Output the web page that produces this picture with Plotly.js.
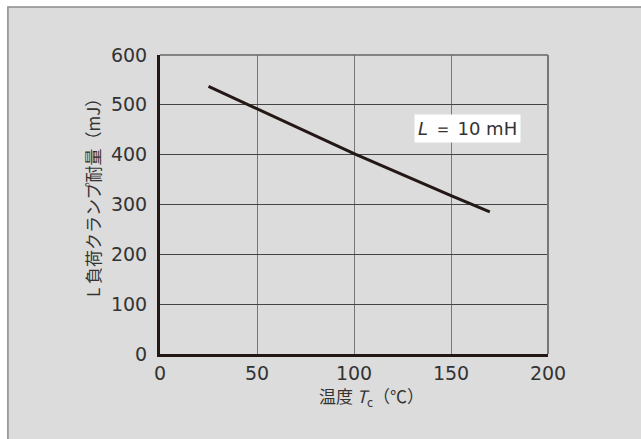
<!DOCTYPE html>
<html>
<head>
<meta charset="utf-8">
<script src="https://cdn.plot.ly/plotly-3.0.1.min.js"></script>
<style>
html,body{margin:0;padding:0;background:#fff;}
#chart{width:641px;height:439px;}
</style>
</head>
<body>
<div id="chart"></div>
<script>
// Data
const tempC = [25, 50, 100, 150, 170];
const clampEnergy = [537, 492, 402, 318, 285];
const xTicks = [0, 50, 100, 150, 200];
const yTicks = [0, 100, 200, 300, 400, 500, 600];
const seriesLabel = '<i>L</i> ＝ 10 mH';
const xTitle = '温度 <i>T</i><sub>c</sub>（℃）';
const yTitle = 'L 負荷クランプ耐量（mJ）';

const dark = '#231815';
const tickFont = {family: 'DejaVu Sans, sans-serif', size: 19, color: '#333'};
const cjkFont = {family: '"Noto Sans CJK JP", sans-serif', size: 17, color: '#333'};

const trace = {
  x: tempC, y: clampEnergy, type: 'scatter', mode: 'lines',
  line: {color: dark, width: 3}, hoverinfo: 'skip', showlegend: false
};

const layout = {
  width: 641, height: 439,
  margin: {l: 160, r: 93, t: 55, b: 85},
  paper_bgcolor: '#ffffff',
  plot_bgcolor: '#ffffff',
  showlegend: false,
  xaxis: {
    range: [0, 200], tickvals: xTicks, ticktext: xTicks.map(String),
    showgrid: true, gridcolor: '#777', gridwidth: 1,
    zeroline: false, showline: true, linecolor: dark, linewidth: 3,
    ticks: '', tickfont: tickFont, ticklabelstandoff: 0
  },
  yaxis: {
    range: [0, 600], tickvals: yTicks, ticktext: yTicks.map(String),
    showgrid: true, gridcolor: '#444', gridwidth: 1,
    zeroline: false, showline: true, linecolor: dark, linewidth: 3,
    ticks: '', tickfont: tickFont, ticklabelstandoff: 6
  },
  shapes: [
    {type: 'rect', xref: 'paper', yref: 'paper', layer: 'below',
     x0: -0.392, x1: 1.30, y0: -0.40, y1: 1.1605,
     fillcolor: '#dcdcdc', line: {color: '#8a8a8a', width: 1.5}},
    {type: 'line', xref: 'paper', yref: 'paper', layer: 'above',
     x0: 0, x1: 1, y0: 1, y1: 1, line: {color: '#666', width: 1.5}},
    {type: 'line', xref: 'paper', yref: 'paper', layer: 'above',
     x0: 1, x1: 1, y0: 0, y1: 1, line: {color: '#777', width: 2}}
  ],
  annotations: [
    {x: 158.5, y: 453, xref: 'x', yref: 'y', text: seriesLabel, showarrow: false,
     font: {family: 'DejaVu Sans, sans-serif', size: 18, color: '#333'},
     bgcolor: '#ffffff', borderpad: 3},
    {x: (371 - 160) / 388, y: (354 - 397) / 299, xref: 'paper', yref: 'paper',
     text: xTitle, showarrow: false, font: cjkFont, xanchor: 'center', yanchor: 'middle'},
    {x: (92 - 160) / 388, y: (354 - 194) / 299, xref: 'paper', yref: 'paper',
     text: yTitle, showarrow: false, font: cjkFont, textangle: -90,
     xanchor: 'center', yanchor: 'middle'}
  ]
};

Plotly.newPlot('chart', [trace], layout, {displayModeBar: false, staticPlot: true});
</script>
</body>
</html>
